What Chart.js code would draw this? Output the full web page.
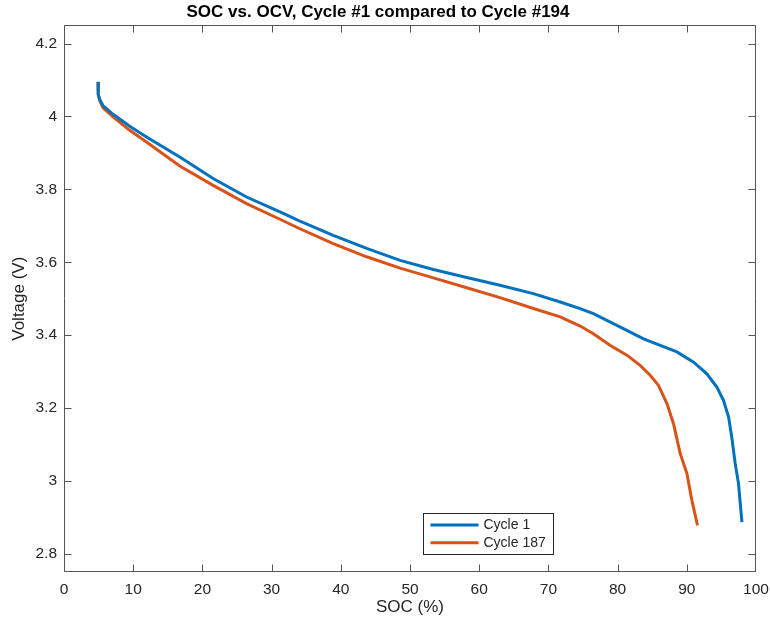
<!DOCTYPE html>
<html>
<head>
<meta charset="utf-8">
<script src="https://cdn.jsdelivr.net/npm/chart.js@4.4.0/dist/chart.umd.min.js"></script>
<style>
    html, body { margin: 0; padding: 0; background: #fff; }
    canvas { display: block; }
</style>
</head>
<body>
<canvas id="ocvChart" width="770" height="619"></canvas>
<script>
const chartTitle = "SOC vs. OCV, Cycle #1 compared to Cycle #194";

const socCycle1 = [
    4.92, 4.95, 5.2, 5.64, 7.09, 9.5, 11.92, 16.73, 21.55, 26.38,
    31.2, 34.09, 38.9, 43.74, 48.56, 53.38, 58.2, 63.0, 67.83, 71.7,
    74.59, 76.5, 81.34, 83.75, 86.16, 88.57, 90.98, 92.9, 94.36, 95.3,
    96.04, 96.5, 97.0, 97.48, 97.73, 97.97
];
const ocvCycle1 = [
    4.095, 4.06, 4.045, 4.030, 4.006, 3.973, 3.944, 3.889, 3.830, 3.779,
    3.738, 3.713, 3.674, 3.638, 3.605, 3.580, 3.558, 3.537, 3.514, 3.491,
    3.473, 3.459, 3.413, 3.390, 3.372, 3.354, 3.326, 3.294, 3.257, 3.221,
    3.175, 3.120, 3.047, 2.992, 2.937, 2.887
];

const socCycle187 = [
    4.92, 4.95, 5.2, 5.64, 7.09, 9.5, 11.92, 16.73, 21.55, 26.38,
    31.2, 34.09, 38.9, 43.74, 48.56, 53.38, 58.2, 63.0, 67.83, 71.7,
    74.59, 76.5, 78.9, 81.34, 83.26, 84.71, 85.91, 87.13, 88.08, 89.05,
    90.02, 90.74, 91.55
];
const ocvCycle187 = [
    4.095, 4.06, 4.042, 4.024, 3.999, 3.962, 3.930, 3.864, 3.811, 3.761,
    3.718, 3.692, 3.651, 3.615, 3.584, 3.557, 3.530, 3.503, 3.473, 3.450,
    3.425, 3.404, 3.372, 3.345, 3.317, 3.290, 3.262, 3.212, 3.157, 3.075,
    3.020, 2.946, 2.878
];

const xTicks = [0, 10, 20, 30, 40, 50, 60, 70, 80, 90, 100];
const yTicks = [2.8, 3.0, 3.2, 3.4, 3.6, 3.8, 4.0, 4.2];

const fontFamily = "'Liberation Sans', Arial, Helvetica, sans-serif";
const axisColor = "#262626";

function toPoints(xs, ys) {
    return xs.map((x, i) => ({ x: x, y: ys[i] }));
}

// box around the plot with inward ticks on all four sides, plus the legend
const matlabAxes = {
    id: "matlabAxes",
    afterDraw(chart) {
        const c = chart.ctx;
        const a = chart.chartArea;
        const xs = chart.scales.x;
        const ys = chart.scales.y;
        const tl = 7;

        c.save();
        c.strokeStyle = "#555";
        c.lineWidth = 1;
        c.beginPath();
        const L = Math.round(a.left) + 0.5;
        const R = Math.round(a.right) - 0.5;
        const T = Math.round(a.top) + 0.5;
        const B = Math.round(a.bottom) - 0.5;
        c.rect(L, T, R - L, B - T);

        xTicks.forEach(v => {
            const px = Math.min(R, Math.max(L, Math.round(xs.getPixelForValue(v)) + 0.5));
            c.moveTo(px, B);
            c.lineTo(px, B - tl);
            c.moveTo(px, T);
            c.lineTo(px, T + tl);
        });
        yTicks.forEach(v => {
            const py = Math.min(B, Math.max(T, Math.round(ys.getPixelForValue(v)) + 0.5));
            c.moveTo(L, py);
            c.lineTo(L + tl, py);
            c.moveTo(R, py);
            c.lineTo(R - tl, py);
        });
        c.stroke();

        // legend
        const lx = 423.5, ly = 513.5, lw = 130, lh = 41;
        c.fillStyle = "#fff";
        c.fillRect(lx, ly, lw, lh);
        c.strokeStyle = "#262626";
        c.strokeRect(lx, ly, lw, lh);
        c.font = "14px " + fontFamily;
        c.textBaseline = "middle";
        c.textAlign = "left";
        chart.data.datasets.forEach((ds, i) => {
            const y = ly + 11.5 + i * 17.7;
            c.strokeStyle = ds.borderColor;
            c.lineWidth = 3;
            c.beginPath();
            c.moveTo(lx + 7, y);
            c.lineTo(lx + 55, y);
            c.stroke();
            c.fillStyle = axisColor;
            c.fillText(ds.label, lx + 60, y + 0.5);
        });
        c.restore();
    }
};

new Chart(document.getElementById("ocvChart"), {
    type: "scatter",
    data: {
        datasets: [{
            label: "Cycle 1",
            data: toPoints(socCycle1, ocvCycle1),
            showLine: true,
            borderColor: "#0072BD",
            borderWidth: 3,
            pointRadius: 0,
            tension: 0
        }, {
            label: "Cycle 187",
            data: toPoints(socCycle187, ocvCycle187),
            showLine: true,
            borderColor: "#D95319",
            borderWidth: 3,
            pointRadius: 0,
            tension: 0
        }]
    },
    options: {
        responsive: false,
        animation: false,
        layout: {
            padding: { left: 0, right: 14, top: 0, bottom: 0 }
        },
        plugins: {
            legend: { display: false },
            tooltip: { enabled: false },
            title: {
                display: true,
                text: chartTitle,
                color: "#000",
                font: { family: fontFamily, size: 17, weight: "bold", lineHeight: 1.2 },
                padding: { top: 2, bottom: 3 }
            }
        },
        scales: {
            x: {
                type: "linear",
                min: 0,
                max: 100,
                afterFit: s => {
                    s.height = 47;
                    s.paddingLeft = 0;
                    s.paddingRight = 0;
                },
                afterBuildTicks: s => { s.ticks = xTicks.map(v => ({ value: v })); },
                grid: { display: false, drawTicks: false },
                border: { display: false },
                ticks: {
                    color: axisColor,
                    padding: 8,
                    maxRotation: 0,
                    font: { family: fontFamily, size: 15.5 },
                    callback: v => String(v)
                },
                title: {
                    display: true,
                    text: "SOC (%)",
                    color: axisColor,
                    font: { family: fontFamily, size: 17, lineHeight: 1.2 },
                    padding: { top: 0, bottom: 1 }
                }
            },
            y: {
                type: "linear",
                min: 2.75,
                max: 4.25,
                afterFit: s => { s.width = 64; },
                afterBuildTicks: s => { s.ticks = yTicks.map(v => ({ value: v })); },
                grid: { display: false, drawTicks: false },
                border: { display: false },
                ticks: {
                    color: axisColor,
                    padding: 7,
                    font: { family: fontFamily, size: 15.5 },
                    callback: v => String(+v.toFixed(1))
                },
                title: {
                    display: true,
                    text: "Voltage (V)",
                    color: axisColor,
                    font: { family: fontFamily, size: 17, lineHeight: 1.2 },
                    padding: { top: 9, bottom: 0 }
                }
            }
        }
    },
    plugins: [matlabAxes]
});
</script>
</body>
</html>
